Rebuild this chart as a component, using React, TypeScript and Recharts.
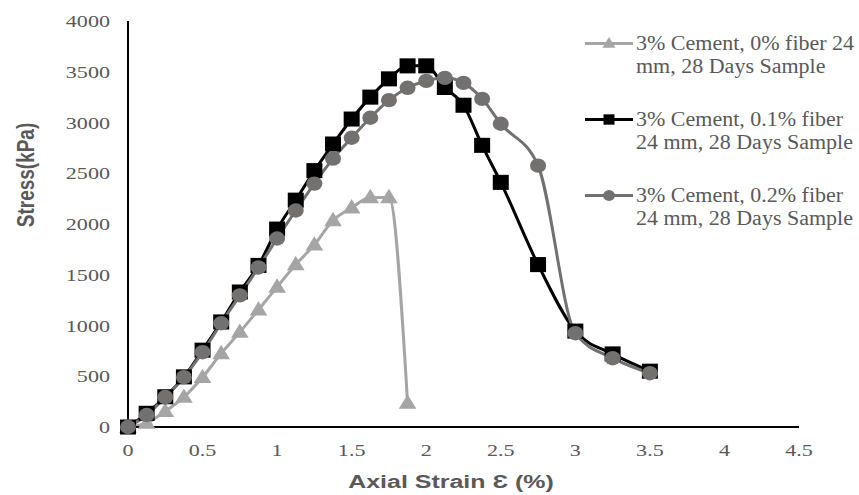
import { LineChart, Line, XAxis, YAxis, Legend, Label } from 'recharts';

// strain (%) and stress (kPa)
const strainPlain = [0, 0.125, 0.25, 0.375, 0.5, 0.625, 0.75, 0.875, 1, 1.125, 1.25, 1.375, 1.5, 1.625, 1.75, 1.875];
const stressFiber0 = [0, 40, 155, 295, 490, 725, 935, 1155, 1380, 1600, 1795, 2035, 2160, 2262, 2262, 236];

const strainFiber = [
  0, 0.125, 0.25, 0.375, 0.5, 0.625, 0.75, 0.875, 1, 1.125, 1.25, 1.375, 1.5, 1.625, 1.75, 1.875,
  2, 2.125, 2.25, 2.375, 2.5, 2.75, 3, 3.25, 3.5,
];
const stressFiber01 = [
  0, 135, 298, 494, 757, 1035, 1330, 1592, 1950, 2235, 2526, 2788, 3034, 3250, 3430, 3558,
  3558, 3345, 3170, 2775, 2410, 1600, 945, 720, 550,
];
const stressFiber02 = [
  0, 118, 295, 491, 737, 1022, 1297, 1572, 1857, 2133, 2398, 2644, 2850, 3047, 3220, 3342,
  3410, 3440, 3390, 3233, 2988, 2575, 924, 678, 530,
];

const xTicks = [0, 0.5, 1, 1.5, 2, 2.5, 3, 3.5, 4, 4.5];
const yTicks = [0, 500, 1000, 1500, 2000, 2500, 3000, 3500, 4000];

const seriesLabels = [
  ['3% Cement, 0% fiber 24', 'mm, 28 Days Sample'],
  ['3% Cement, 0.1% fiber', '24 mm, 28 Days Sample'],
  ['3% Cement, 0.2% fiber', '24 mm, 28 Days Sample'],
];

const COLORS = {
  plain: '#A5A5A5',
  fiber01: '#000000',
  fiber02: '#737070',
  text: '#595959',
};

const SERIF = '"Liberation Serif", "Times New Roman", serif';
const SANS = '"Liberation Sans", Arial, sans-serif';

// the source image is stretched sideways, so the text is too
const STRETCH = 1.3;

const plainData = strainPlain.map((x, i) => ({ x, y: stressFiber0[i] }));
const fiber01Data = strainFiber.map((x, i) => ({ x, y: stressFiber01[i] }));
const fiber02Data = strainFiber.map((x, i) => ({ x, y: stressFiber02[i] }));

type Shape = 'triangle' | 'square' | 'circle';

function marker(shape: Shape, cx: number, cy: number, fill: string, s: number, key?: string) {
  if (shape === 'triangle') {
    const w = s * 1.1;
    const h = s * 0.9;
    return <polygon key={key} points={`${cx},${cy - h * 0.6} ${cx - w / 2},${cy + h * 0.4} ${cx + w / 2},${cy + h * 0.4}`} fill={fill} />;
  }
  if (shape === 'square') {
    return <rect key={key} x={cx - s / 2} y={cy - (s * 0.94) / 2} width={s} height={s * 0.94} fill={fill} />;
  }
  return <ellipse key={key} cx={cx} cy={cy} rx={s / 2} ry={(s * 0.9) / 2} fill={fill} />;
}

const makeDot = (shape: Shape, fill: string, size: number) => (props: any) => {
  const { cx, cy, index } = props;
  if (cx == null || cy == null) return <g key={`d-${index}`} />;
  return marker(shape, cx, cy, fill, size, `d-${shape}-${index}`);
};

const XTick = (props: any) => {
  const { x, y, payload } = props;
  return (
    <g transform={`translate(${x},${y})`}>
      <text transform={`scale(${STRETCH},1)`} textAnchor="middle" dy="0.71em" fill={COLORS.text} fontSize={17} fontFamily={SERIF}>
        {payload.value}
      </text>
    </g>
  );
};

const YTick = (props: any) => {
  const { x, y, payload } = props;
  return (
    <g transform={`translate(${x},${y})`}>
      <text transform={`scale(${STRETCH},1)`} textAnchor="end" dy="0.355em" fill={COLORS.text} fontSize={17} fontFamily={SERIF}>
        {payload.value}
      </text>
    </g>
  );
};

const legendItems: { shape: Shape; color: string; size: number }[] = [
  { shape: 'triangle', color: COLORS.plain, size: 12 },
  { shape: 'square', color: COLORS.fiber01, size: 11 },
  { shape: 'circle', color: COLORS.fiber02, size: 12 },
];

const renderLegend = () => (
  <div style={{ position: 'relative', width: 274, height: 200, fontFamily: SERIF, fontSize: 20, color: COLORS.text }}>
    {legendItems.map((item, i) => (
      <div key={i} style={{ position: 'absolute', left: 0, top: i * 76, display: 'flex', alignItems: 'flex-start' }}>
        <svg width={51} height={23} style={{ display: 'block' }}>
          <line x1={0} x2={48} y1={11.5} y2={11.5} stroke={item.color} strokeWidth={3} />
          {marker(item.shape, 24, 11.5, item.color, item.size)}
        </svg>
        <div style={{ lineHeight: '23px', whiteSpace: 'nowrap', transform: 'scaleX(1.1)', transformOrigin: 'left center' }}>
          {seriesLabels[i][0]}
          <br />
          {seriesLabels[i][1]}
        </div>
      </div>
    ))}
  </div>
);

export default function App() {
  return (
    <div style={{ position: 'absolute', left: 0, top: 0, width: 859, height: 495, background: '#fff' }}>
      <LineChart width={859} height={495} margin={{ top: 21, right: 60, bottom: 28, left: 0 }}>
        <XAxis
          type="number"
          dataKey="x"
          domain={[0, 4.5]}
          ticks={xTicks}
          allowDuplicatedCategory={false}
          height={40}
          tickLine={false}
          tickMargin={11}
          axisLine={{ stroke: '#000', strokeWidth: 2 }}
          tick={<XTick />}
        >
          <Label
            content={() => (
              <g transform="translate(451,488)">
                <text transform="scale(1.35,1)" textAnchor="middle" fill={COLORS.text} fontFamily={SANS} fontWeight="bold" fontSize={18.5}>
                  Axial Strain Ɛ (%)
                </text>
              </g>
            )}
          />
        </XAxis>
        <YAxis
          type="number"
          dataKey="y"
          domain={[0, 4000]}
          ticks={yTicks}
          width={128}
          tickLine={false}
          tickMargin={12}
          axisLine={{ stroke: '#000', strokeWidth: 2 }}
          tick={<YTick />}
        >
          <Label
            content={() => (
              <g transform="translate(25,175) rotate(-90) scale(1,1.3)">
                <text x={0} y={0} dy="0.35em" textAnchor="middle" fill={COLORS.text} fontFamily={SANS} fontWeight="bold" fontSize={19}>
                  Stress(kPa)
                </text>
              </g>
            )}
          />
        </YAxis>
        <Legend
          layout="vertical"
          align="center"
          verticalAlign="middle"
          content={renderLegend}
          wrapperStyle={{ left: 585, top: 32, width: 274 }}
        />
        <Line
          data={plainData}
          dataKey="y"
          name={seriesLabels[0].join(' ')}
          type="monotone"
          stroke={COLORS.plain}
          strokeWidth={3}
          dot={makeDot('triangle', COLORS.plain, 16)}
          activeDot={false}
          isAnimationActive={false}
        />
        <Line
          data={fiber01Data}
          dataKey="y"
          name={seriesLabels[1].join(' ')}
          type="monotone"
          stroke={COLORS.fiber01}
          strokeWidth={3}
          dot={makeDot('square', COLORS.fiber01, 16)}
          activeDot={false}
          isAnimationActive={false}
        />
        <Line
          data={fiber02Data}
          dataKey="y"
          name={seriesLabels[2].join(' ')}
          type="monotone"
          stroke={COLORS.fiber02}
          strokeWidth={3}
          dot={makeDot('circle', COLORS.fiber02, 16)}
          activeDot={false}
          isAnimationActive={false}
        />
      </LineChart>
    </div>
  );
}
